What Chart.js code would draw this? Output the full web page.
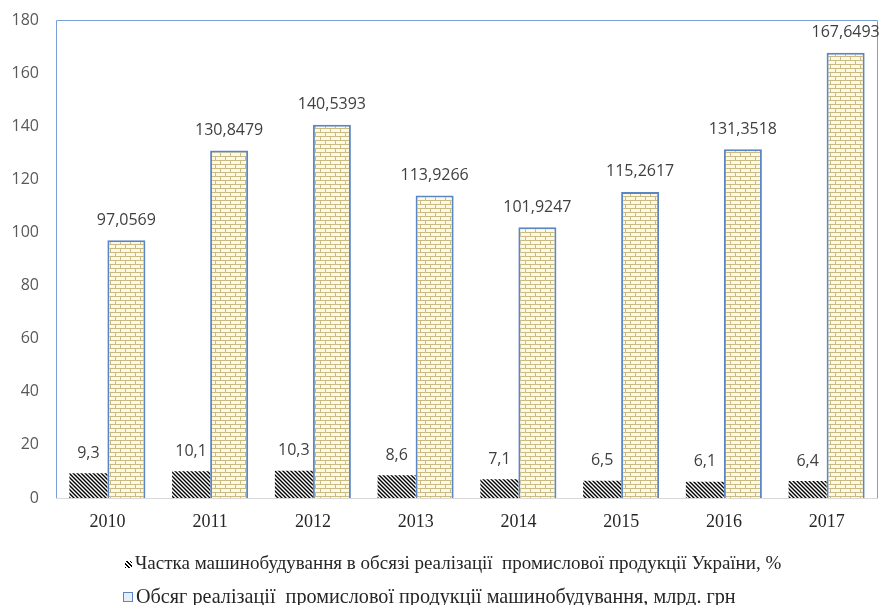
<!DOCTYPE html>
<html>
<head>
<meta charset="utf-8">
<script src="https://cdn.jsdelivr.net/npm/chart.js@4"></script>
<style>
    html, body { margin: 0; padding: 0; background: #fff; }
    #wrap { position: relative; width: 885px; height: 605px; overflow: hidden; }
    #grafik { position: absolute; left: 0; top: 0; }
    .legenda {
        position: absolute;
        font-family: "Liberation Serif", "Times New Roman", serif;
        color: #262626;
        white-space: pre;
        line-height: 22px;
    }
    .legenda span.marker { display: inline-block; margin-right: 3px; }
    #leg1 { left: 125px; top: 552px; font-size: 19px; }
    #leg2 { left: 123px; top: 585px; font-size: 20.2px; }
    #leg1 .marker {
        width: 7px; height: 7px; vertical-align: 1px;
        background: repeating-linear-gradient(45deg, #000 0 1.2px, #fff 1.2px 2.6px);
    }
    #leg2 .marker {
        width: 8px; height: 8px; vertical-align: 1px;
        border: 1px solid #5b86c5;
        background: #e8eef8;
    }
</style>
</head>
<body>
<div id="wrap">
    <canvas id="grafik" width="885" height="605"></canvas>
    <div class="legenda" id="leg1"><span class="marker"></span>Частка машинобудування в обсязі реалізації  промислової продукції України, %</div>
    <div class="legenda" id="leg2"><span class="marker"></span>Обсяг реалізації  промислової продукції машинобудування, млрд. грн</div>
</div>
<script>
const roky = ["2010", "2011", "2012", "2013", "2014", "2015", "2016", "2017"];
const chastka = [9.3, 10.1, 10.3, 8.6, 7.1, 6.5, 6.1, 6.4];
const obsyag = [97.0569, 130.8479, 140.5393, 113.9266, 101.9247, 115.2617, 131.3518, 167.6493];
const yMin = 0;
const yMax = 180;
const yKrok = 20;

const nazvaChastka = "Частка машинобудування в обсязі реалізації  промислової продукції України, %";
const nazvaObsyag = "Обсяг реалізації  промислової продукції машинобудування, млрд. грн";

const shriftTsyfry = "'Open Sans', 'Liberation Sans', sans-serif";
const shriftSerif = "'Liberation Serif', 'Times New Roman', serif";

// штриховка для частки
function shtrykhovka() {
    const c = document.createElement("canvas");
    c.width = 4;
    c.height = 4;
    const g = c.getContext("2d");
    g.fillStyle = "#fff";
    g.fillRect(0, 0, 4, 4);
    g.strokeStyle = "#000";
    g.lineWidth = 1.4;
    g.beginPath();
    g.moveTo(-1, -1); g.lineTo(5, 5);
    g.moveTo(-1, 3); g.lineTo(1, 5);
    g.moveTo(3, -1); g.lineTo(5, 1);
    g.stroke();
    return g.createPattern(c, "repeat");
}

// цегла для обсягу
function tsehla() {
    const c = document.createElement("canvas");
    c.width = 10;
    c.height = 8;
    const g = c.getContext("2d");
    g.fillStyle = "#fdf9e6";
    g.fillRect(0, 0, 10, 8);
    g.fillStyle = "#c9bb82";
    g.fillRect(0, 0, 10, 1);
    g.fillRect(0, 4, 10, 1);
    g.fillRect(0, 0, 1, 4);
    g.fillRect(5, 4, 1, 4);
    return g.createPattern(c, "repeat");
}

const ramka = {
    id: "ramka",
    beforeDatasetsDraw(chart) {
        const a = chart.chartArea;
        const ctx = chart.ctx;
        ctx.save();
        ctx.strokeStyle = "#79a0d6";
        ctx.lineWidth = 1;
        ctx.beginPath();
        ctx.moveTo(a.left + 0.5, a.bottom);
        ctx.lineTo(a.left + 0.5, a.top + 0.5);
        ctx.lineTo(a.right - 0.5, a.top + 0.5);
        ctx.lineTo(a.right - 0.5, a.bottom);
        ctx.stroke();
        ctx.strokeStyle = "#d9d9d9";
        ctx.beginPath();
        ctx.moveTo(a.left, a.bottom + 0.5);
        ctx.lineTo(a.right, a.bottom + 0.5);
        ctx.stroke();
        ctx.restore();
    },
};

const pidpysy = {
    id: "pidpysy",
    afterDatasetsDraw(chart) {
        const ctx = chart.ctx;
        ctx.save();
        ctx.font = "16px " + shriftTsyfry;
        ctx.fillStyle = "#404040";
        ctx.textAlign = "center";
        ctx.textBaseline = "middle";
        chart.data.datasets.forEach((ds, i) => {
            const meta = chart.getDatasetMeta(i);
            meta.data.forEach((bar, j) => {
                const tekst = ds.data[j].toString().replace(".", ",");
                ctx.fillText(tekst, bar.x, bar.y - 20);
            });
        });
        ctx.restore();
    },
};

new Chart(document.getElementById("grafik"), {
    type: "bar",
    data: {
        labels: roky,
        datasets: [
            {
                label: nazvaChastka,
                data: chastka,
                backgroundColor: shtrykhovka(),
                borderWidth: 0,
                barPercentage: 1,
                categoryPercentage: 0.74,
            },
            {
                label: nazvaObsyag,
                data: obsyag,
                backgroundColor: tsehla(),
                borderColor: "#5b86c5",
                borderWidth: 2,
                borderSkipped: "bottom",
                barPercentage: 1,
                categoryPercentage: 0.74,
            },
        ],
    },
    options: {
        responsive: false,
        animation: false,
        layout: { padding: { top: 20, right: 7, bottom: 67, left: 0 } },
        scales: {
            x: {
                grid: { display: false, drawTicks: false },
                border: { display: false },
                ticks: {
                    font: { family: shriftSerif, size: 18 },
                    color: "#262626",
                    padding: 13,
                },
                afterFit(scale) { scale.height = 40; },
            },
            y: {
                min: yMin,
                max: yMax,
                grid: { display: false, drawTicks: false },
                border: { display: false },
                ticks: {
                    stepSize: yKrok,
                    font: { family: shriftTsyfry, size: 16 },
                    color: "#595959",
                    padding: 17,
                },
                afterFit(scale) {
                    scale.width = 56;
                    scale.paddingTop = 0;
                    scale.paddingBottom = 0;
                },
            },
        },
        plugins: {
            legend: { display: false },
            tooltip: { enabled: false },
        },
    },
    plugins: [ramka, pidpysy],
});
</script>
</body>
</html>
